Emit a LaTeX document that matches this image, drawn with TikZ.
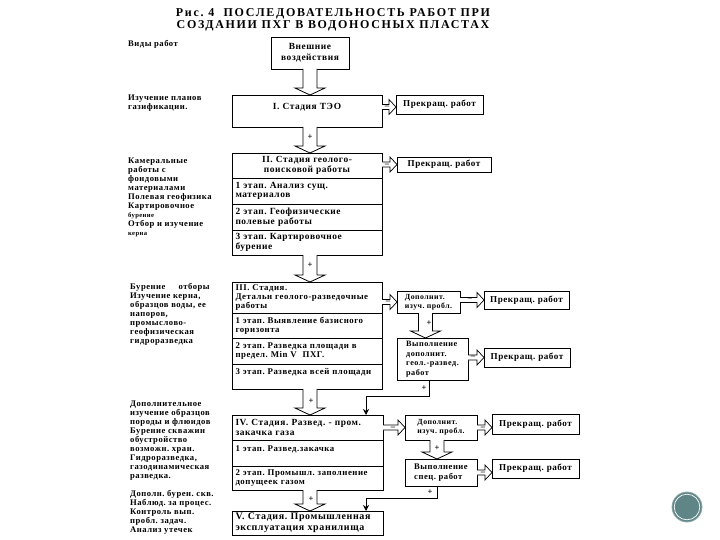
\documentclass[tikz,border=0pt]{standalone}
\usepackage{fontspec}
\setmainfont[LetterSpace=6]{Liberation Serif}
\newfontfamily\titlefont[LetterSpace=14]{Liberation Serif}
\usetikzlibrary{arrows.meta,calc}
\definecolor{Cring}{HTML}{5f8587}
\tikzset{
	stagebox/.style={draw, line width=0.8pt, anchor=north west, outer sep=0pt, inner xsep=3.5pt, inner ysep=0pt,
		text width=#1, align=left, font=\fontsize{8.8}{9.3}\selectfont\bfseries},
	stagebox/.default=143pt,
	bigtext/.style={font=\fontsize{9.4}{9.6}\selectfont\bfseries},
	stopbox/.style={draw, line width=0.8pt, anchor=north west, outer sep=0pt, inner xsep=4pt, inner ysep=0pt,
		align=left, font=\fontsize{9.1}{9.6}\selectfont\bfseries},
	worktext/.style={anchor=north west, inner sep=0pt, align=left, font=\fontsize{8.6}{9}\selectfont\bfseries},
	downarrow/.style={draw, line width=0.8pt, fill=white, to path={
		($(\tikztostart)+(-7,0)$) -- ($(\tikztotarget)+(-7,-7)$) -- ++(-8,0) -- (\tikztotarget)
		-- ($(\tikztotarget)+(15,-7)$) -- ++(-8,0) -- ($(\tikztostart)+(7,0)$)}},
	rightarrow/.style={draw, line width=0.7pt, fill=white, to path={
		($(\tikztostart)+(0,-2.5)$) -- ($(\tikztotarget)+(-7,-2.5)$) -- ++(0,-5) -- (\tikztotarget)
		-- ($(\tikztotarget)+(-7,7.5)$) -- ++(0,-5) -- ($(\tikztostart)+(0,2.5)$)}},
	backline/.style={draw, line width=0.7pt, -{Stealth[length=6pt, width=6pt]}},
	signmark/.style={inner sep=0pt, font=\fontsize{8.5}{8}\selectfont\bfseries}
}
\frenchspacing
\begin{document}
\begin{tikzpicture}[x=1pt, y=-1pt]
		\useasboundingbox (0,0) rectangle (720,540);
		
		%% title
		\node[font=\titlefont\fontsize{12}{12}\selectfont\bfseries, align=center, inner sep=0pt] (title) at (333,20)
		{Рис. 4\ \ ПОСЛЕДОВАТЕЛЬНОСТЬ РАБОТ ПРИ\\СОЗДАНИИ ПХГ В ВОДОНОСНЫХ ПЛАСТАХ};
		
		%% left column — kinds of work
		\node[worktext] (kind0) at (128,40) {Виды работ};
		\node[worktext] (kind1) at (128,95) {Изучение планов\\газификации.};
		\node[worktext] (kind2) at (128,158)
		{Камеральные\\работы с\\фондовыми\\материалами\\Полевая геофизика\\Картировочное\\{\fontsize{6.6}{9}\selectfont бурение}\\Отбор и изучение\\{\fontsize{6.6}{9}\selectfont керна}};
		\node[worktext] (kind3) at (130,283)
		{Бурение\ \ \ \ \ отборы\\Изучение керна,\\образцов воды, ее\\напоров,\\промыслово-\\геофизическая\\гидроразведка};
		\node[worktext] (kind4) at (130,401)
		{Дополнительное\\изучение образцов\\породы и флюидов\\Бурение скважин\\обустройство\\возможн. хран.\\Гидроразведка,\\газодинамическая\\разведка.};
		\node[worktext] (kind5) at (130,490)
		{Дополн. бурен. скв.\\Наблюд. за процес.\\Контроль вып.\\пробл. задач.\\Анализ утечек};
		
		%% top box
		\node[draw, line width=0.8pt, anchor=north west, outer sep=0pt, minimum width=78pt, minimum height=32pt, inner sep=0pt,
		align=center, font=\fontsize{9.4}{11}\selectfont\bfseries] (ext) at (271,37) {Внешние\\воздействия};
		
		%% stage I
		\node[stagebox, bigtext, minimum height=32pt, align=center] (st1) at (232,95) {I. Стадия ТЭО\\\mbox{}};
		
		%% stage II
		\node[stagebox, bigtext, minimum height=25pt, align=center] (st2) at (232,153) {II. Стадия геолого-\\поисковой работы};
		\node[stagebox, bigtext, minimum height=26pt] (st2a) at (232,178) {1 этап. Анализ сущ.\\материалов};
		\node[stagebox, bigtext, minimum height=26pt] (st2b) at (232,204) {2 этап. Геофизические\\полевые работы};
		\node[stagebox, bigtext, minimum height=25pt] (st2c) at (232,230) {3 этап. Картировочное\\бурение};
		
		%% stage III
		\node[stagebox, minimum height=31pt] (st3) at (232,282) {III. Стадия.\\Детальн геолого-разведочные\\работы};
		\node[stagebox, minimum height=25pt] (st3a) at (232,313) {1 этап. Выявление базисного\\горизонта};
		\node[stagebox, minimum height=26pt] (st3b) at (232,338) {2 этап. Разведка площади в\\предел. Min V\ \ ПХГ.};
		\node[stagebox, minimum height=25pt] (st3c) at (232,364) {3 этап. Разведка всей площади\\\mbox{}};
		
		%% stage IV
		\node[stagebox=144pt, bigtext, minimum height=25pt] (st4) at (232,415) {IV. Стадия. Развед. - пром.\\закачка газа};
		\node[stagebox=144pt, minimum height=26pt] (st4a) at (232,440) {1 этап. Развед.закачка\\\mbox{}};
		\node[stagebox=144pt, minimum height=24pt] (st4b) at (232,466) {2 этап. Промышл. заполнение\\допущеек газом};
		
		%% stage V
		\node[stagebox=144pt, font=\fontsize{10}{11}\selectfont\bfseries, minimum height=24pt] (st5) at (232,511) {V. Стадия. Промышленная\\эксплуатация хранилища};
		
		%% right side boxes
		\node[stopbox, minimum width=87pt, minimum height=19pt] (stop1) at (396,95) {Прекращ. работ};
		\node[stopbox, minimum width=94pt, minimum height=15pt] (stop2) at (397,157) {Прекращ. работ};
		\node[stopbox, minimum width=63pt, minimum height=22pt, font=\fontsize{7.8}{9}\selectfont\bfseries] (add3) at (397,291) {Дополнит.\\изуч. пробл.};
		\node[stopbox, minimum width=85pt, minimum height=18pt] (stop3) at (484,291) {Прекращ. работ};
		\node[stopbox, minimum width=71pt, minimum height=42pt, font=\fontsize{8.2}{9.6}\selectfont\bfseries] (exec3) at (397,338) {Выполнение\\дополнит.\\геол.-развед.\\работ};
		\node[stopbox, minimum width=86pt, minimum height=19pt] (stop4) at (484,348) {Прекращ. работ};
		\node[stopbox, minimum width=72pt, minimum height=25pt, font=\fontsize{7.8}{9}\selectfont\bfseries] (add4) at (405,415) {Дополнит.\\изуч. пробл.};
		\node[stopbox, minimum width=87pt, minimum height=20pt] (stop5) at (492,414) {Прекращ. работ};
		\node[stopbox, minimum width=72pt, minimum height=27pt, font=\fontsize{8.6}{9.6}\selectfont\bfseries] (exec4) at (405,459) {Выполнение\\спец. работ};
		\node[stopbox, minimum width=87pt, minimum height=19pt] (stop6) at (492,459) {Прекращ. работ};
		
		%% hollow arrows between the stages
		\draw[downarrow] (ext.south) to (ext.south |- st1.north);
		\draw[downarrow] (ext.south |- st1.south) to (ext.south |- st2.north);
		\draw[downarrow] (ext.south |- st2c.south) to (ext.south |- st3.north);
		\draw[downarrow] (ext.south |- st3c.south) to (ext.south |- st4.north);
		\draw[downarrow] (ext.south |- st4b.south) to (ext.south |- st5.north);
		\draw[downarrow] ([xshift=-3pt]add3.south) to ([xshift=-3pt]add3.south |- exec3.north);
		\draw[downarrow] ([xshift=-4pt]add4.south) to ([xshift=-4pt]add4.south |- exec4.north);
		
		%% hollow arrows to the right
		\draw[rightarrow] (st1.east |- 0,107) to (stop1.west |- 0,107);
		\draw[rightarrow] (st2.east |- stop2.west) to (stop2.west);
		\draw[rightarrow] (st3.east |- add3.west) to (add3.west);
		\draw[rightarrow] (add3.east |- stop3.west) to (stop3.west);
		\draw[rightarrow] (exec3.east |- stop4.west) to (stop4.west);
		\draw[rightarrow] (st4.east) to (add4.west);
		\draw[rightarrow] (add4.east) to (add4.east -| stop5.west);
		\draw[rightarrow] (exec4.east) to (exec4.east -| stop6.west);
		
		%% signs on the arrows
		\node[signmark] (plus1) at (310,137) {+};
		\node[signmark] (plus2) at (310,265) {+};
		\node[signmark] (plus3) at (311,401) {+};
		\node[signmark] (plus4) at (311,499) {+};
		\node[signmark] (plus5) at (429,323) {+};
		\node[signmark] (plus6) at (437,448) {+};
		\node[signmark] (plus7) at (424,388) {+};
		\node[signmark] (plus8) at (430,492) {+};
		\node[signmark] (minus1) at (387,107) {--};
		\node[signmark] (minus2) at (387,165) {--};
		\node[signmark] (minus3) at (388,302) {--};
		\node[signmark] (minus4) at (470,299) {--};
		\node[signmark] (minus5) at (473,357) {--};
		\node[signmark] (minus6) at (393,428) {--};
		\node[signmark] (minus7) at (483,428) {--};
		\node[signmark] (minus8) at (483,473) {--};
		
		%% return lines
		\coordinate (back3) at (366,396);
		\coordinate (back4) at (366,498);
		\draw[backline] ([xshift=-3pt]exec3.south) |- (back3) -- (back3 |- st4.north);
		\draw[backline] ([xshift=-4pt]exec4.south) |- (back4) -- (back4 |- st5.north);
		
		%% badge in the corner
		\draw[fill=Cring, draw=Cring!70!white, line width=0.8pt] (687,507) circle (15);
		\draw[white, line width=0.7pt] (687,507) circle (12.8);
		
	\end{tikzpicture}
\end{document}
